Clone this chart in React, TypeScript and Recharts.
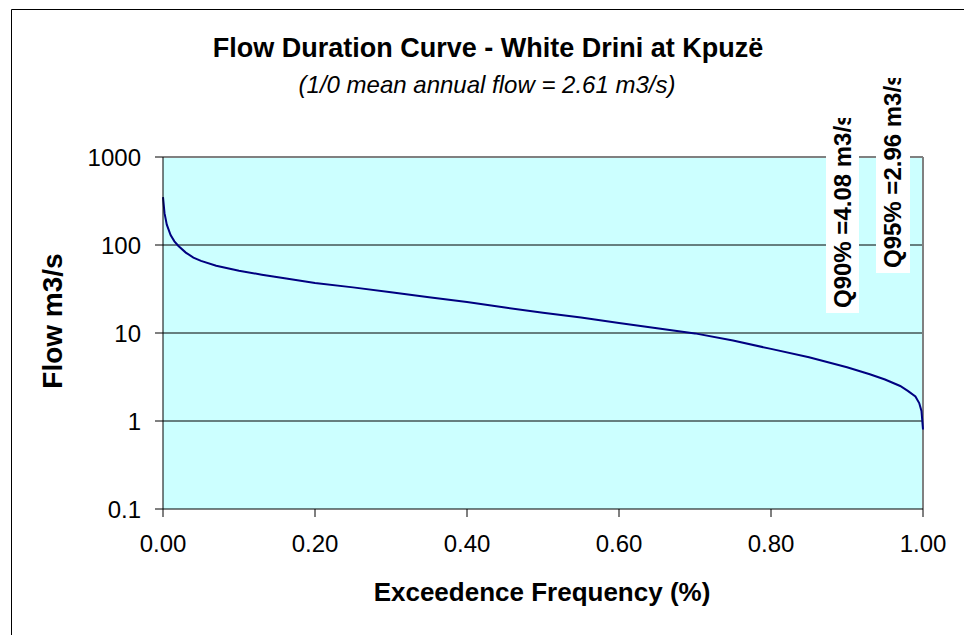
import React from 'react';
import { LineChart, Line, XAxis, YAxis, CartesianGrid, ReferenceLine } from 'recharts';

const freq = [0, 0.002, 0.005, 0.01, 0.015, 0.02, 0.03, 0.04, 0.05, 0.07, 0.1, 0.13, 0.16, 0.2, 0.25, 0.3, 0.35, 0.4, 0.45, 0.5, 0.55, 0.6, 0.65, 0.7, 0.75, 0.8, 0.85, 0.9, 0.93, 0.95, 0.97, 0.98, 0.99, 0.995, 0.998, 1.0];
const flow = [350, 230, 170, 130, 110, 98, 82, 72, 66, 58, 51, 46, 42, 37, 33, 29, 25.5, 22.5, 19.5, 17, 15, 13, 11.3, 9.9, 8.2, 6.6, 5.3, 4.08, 3.4, 2.96, 2.5, 2.2, 1.9, 1.6, 1.3, 0.8];
const xTicks = [0, 0.2, 0.4, 0.6, 0.8, 1.0];
const yTicks = [0.1, 1, 10, 100, 1000];
const titleText = 'Flow Duration Curve - White Drini at Kpuzë';
const subtitleText = '(1/0 mean annual flow = 2.61 m3/s)';
const q90Label = 'Q90% =4.08 m3/s';
const q95Label = 'Q95% =2.96 m3/s';

const data = freq.map((f, i) => ({ f, q: flow[i] }));

const FONT = 'Arial, "Liberation Sans", sans-serif';

export default function App() {
  return (
    <div style={{ position: 'absolute', left: 0, top: 0, width: 964, height: 635, background: '#fff', fontFamily: FONT }}>
      <LineChart
        width={964}
        height={635}
        data={data}
        margin={{ top: 157, right: 41, bottom: 96, left: 93 }}
      >
        <CartesianGrid
          vertical={false}
          stroke="#000"
          fill="#CCFFFF"
          fillOpacity={1}
          horizontalValues={[1, 10, 100]}
        />
        <XAxis
          dataKey="f"
          type="number"
          domain={[0, 1]}
          ticks={xTicks}
          tickFormatter={(v: number) => v.toFixed(2)}
          axisLine={{ stroke: '#000' }}
          tickLine={{ stroke: '#000' }}
          tickSize={8}
          tickMargin={18}
          height={30}
          tick={{ fill: '#000', fontSize: 24, fontFamily: FONT }}
          interval={0}
        />
        <YAxis
          dataKey="q"
          scale="log"
          type="number"
          domain={[0.1, 1000]}
          ticks={yTicks}
          allowDataOverflow
          tickFormatter={(v: number) => String(v)}
          axisLine={{ stroke: '#000' }}
          tickLine={{ stroke: '#000' }}
          tickSize={8}
          tickMargin={14}
          width={70}
          tick={{ fill: '#000', fontSize: 24, fontFamily: FONT }}
          interval={0}
        />
        <ReferenceLine y={1000} stroke="#808080" strokeWidth={2} />
        <ReferenceLine x={1} stroke="#808080" strokeWidth={2} />
        <Line
          dataKey="q"
          type="linear"
          stroke="#000080"
          strokeWidth={2}
          dot={false}
          isAnimationActive={false}
        />
      </LineChart>
      <svg width={964} height={635} style={{ position: 'absolute', left: 0, top: 0, pointerEvents: 'none' }}>
        <line x1={11.5} y1={9.5} x2={11.5} y2={635} stroke="#000" strokeWidth={1} />
        <line x1={11.5} y1={9.5} x2={964} y2={9.5} stroke="#000" strokeWidth={1} />
        <text x={488} y={57} textAnchor="middle" fontSize={27} fontWeight="bold" fontFamily={FONT} fill="#000">{titleText}</text>
        <text x={487} y={93} textAnchor="middle" fontSize={24} fontStyle="italic" fontFamily={FONT} fill="#000">{subtitleText}</text>
        <text x={62} y={321} textAnchor="middle" fontSize={28} fontWeight="bold" fontFamily={FONT} fill="#000" transform="rotate(-90 62 321)">Flow m3/s</text>
        <text x={542} y={601} textAnchor="middle" fontSize={26} fontWeight="bold" fontFamily={FONT} fill="#000">Exceedence Frequency (%)</text>
        <defs>
          <clipPath id="c90"><rect x={826} y={118} width={33} height={195} /></clipPath>
          <clipPath id="c95"><rect x={876} y={78} width={34} height={195} /></clipPath>
        </defs>
        <rect x={826} y={118} width={33} height={195} fill="#fff" />
        <rect x={876} y={78} width={34} height={195} fill="#fff" />
        <g clipPath="url(#c90)">
          <text x={851} y={308} fontSize={24} fontWeight="bold" fontFamily={FONT} fill="#000" transform="rotate(-90 851 308)">{q90Label}</text>
        </g>
        <g clipPath="url(#c95)">
          <text x={901} y={268} fontSize={24} fontWeight="bold" fontFamily={FONT} fill="#000" transform="rotate(-90 901 268)">{q95Label}</text>
        </g>
      </svg>
    </div>
  );
}
